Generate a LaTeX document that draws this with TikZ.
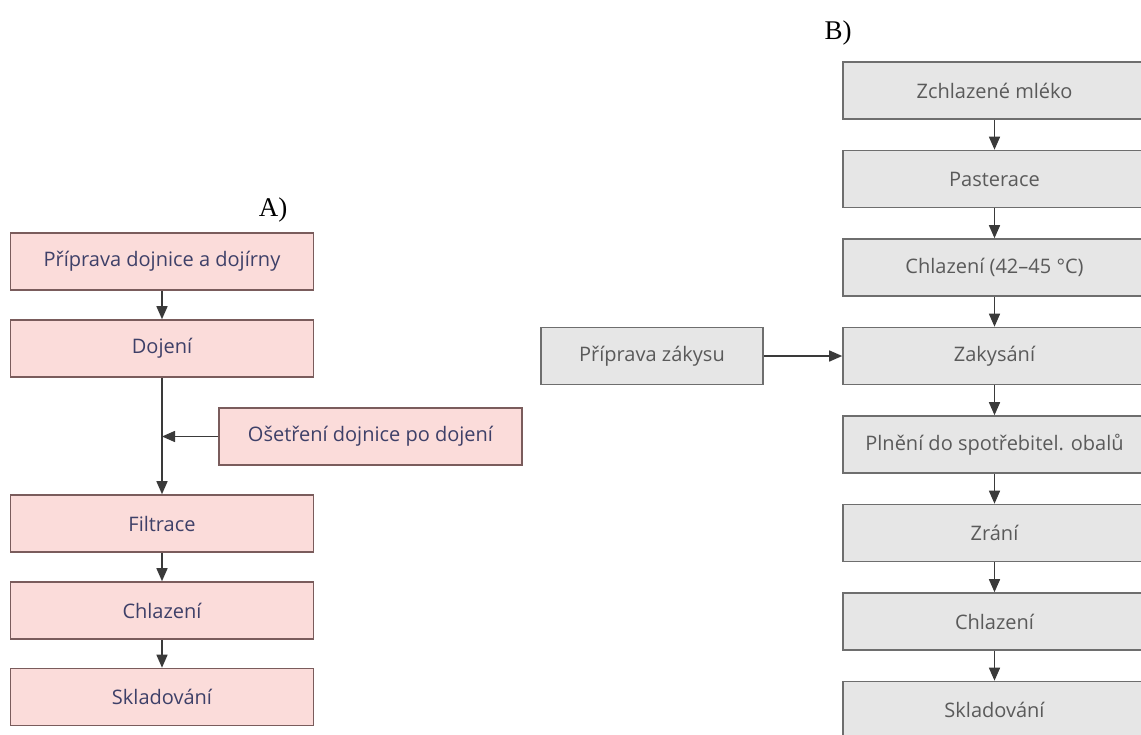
\documentclass[tikz,border=0pt]{standalone}
\usepackage{fontspec}
\setmainfont{Liberation Serif}
\newfontfamily\boxfont{Open Sans}
\usetikzlibrary{arrows.meta}
\definecolor{pinkfill}{HTML}{FBDCDA}
\definecolor{pinkline}{HTML}{7A5C5C}
\definecolor{pinktext}{HTML}{3E4068}
\definecolor{greyfill}{HTML}{E6E6E6}
\definecolor{greyline}{HTML}{6E6E6E}
\definecolor{greytext}{HTML}{5A5A5A}
\definecolor{arrowgrey}{HTML}{3A3A3A}

\begin{document}
\begin{tikzpicture}[x=1pt,y=-1pt,
	stepA/.style={rectangle,draw=pinkline,fill=pinkfill,text=pinktext,line width=1.6,minimum width=303,minimum height=57,font=\boxfont\fontsize{20}{24}\selectfont},
	stepB/.style={rectangle,draw=greyline,fill=greyfill,text=greytext,line width=1.6,minimum width=303,minimum height=57,font=\boxfont\fontsize{20}{24}\selectfont},
	flow/.style={draw=arrowgrey,line width=1.5,-{Triangle[length=13pt,width=11pt]}},
	tag/.style={font=\fontsize{27}{30}\selectfont}]
	\clip (0,0) rectangle (1141,734);
	% A) milking
	\node at (273,210) [tag] (tA) {A)};
	\node at (162,261.5) [stepA] (a1) {Příprava dojnice a dojírny};
	\node at (162,348.5) [stepA] (a2) {Dojení};
	\node at (370.5,436.5) [stepA] (a3) {Ošetření dojnice po dojení};
	\node at (162,523.5) [stepA] (a4) {Filtrace};
	\node at (162,610.5) [stepA] (a5) {Chlazení};
	\node at (162,697) [stepA] (a6) {Skladování};
	\coordinate (aj) at (a2 |- a3);
	\draw [flow] (a1) to (a2);
	\draw [flow] (a2) to (a4);
	\draw [flow] (a3) to (aj);
	\draw [flow] (a4) to (a5);
	\draw [flow] (a5) to (a6);
	% B) yoghurt
	\node at (838,33) [tag] (tB) {B)};
	\node at (994.5,90.5) [stepB] (b1) {Zchlazené mléko};
	\node at (994.5,179) [stepB] (b2) {Pasterace};
	\node at (994.5,267.5) [stepB] (b3) {Chlazení (42–45 °C)};
	\node at (994.5,356) [stepB] (b4) {Zakysání};
	\node at (994.5,444.5) [stepB] (b5) {Plnění do spotřebitel. obalů};
	\node at (994.5,533) [stepB] (b6) {Zrání};
	\node at (994.5,621.5) [stepB] (b7) {Chlazení};
	\node at (994.5,710) [stepB] (b8) {Skladování};
	\node at (652,356) [stepB,minimum width=222] (b0) {Příprava zákysu};
	\draw [flow] (b1) to (b2);
	\draw [flow] (b2) to (b3);
	\draw [flow] (b3) to (b4);
	\draw [flow] (b0) to (b4);
	\draw [flow] (b4) to (b5);
	\draw [flow] (b5) to (b6);
	\draw [flow] (b6) to (b7);
	\draw [flow] (b7) to (b8);
\end{tikzpicture}
\end{document}
